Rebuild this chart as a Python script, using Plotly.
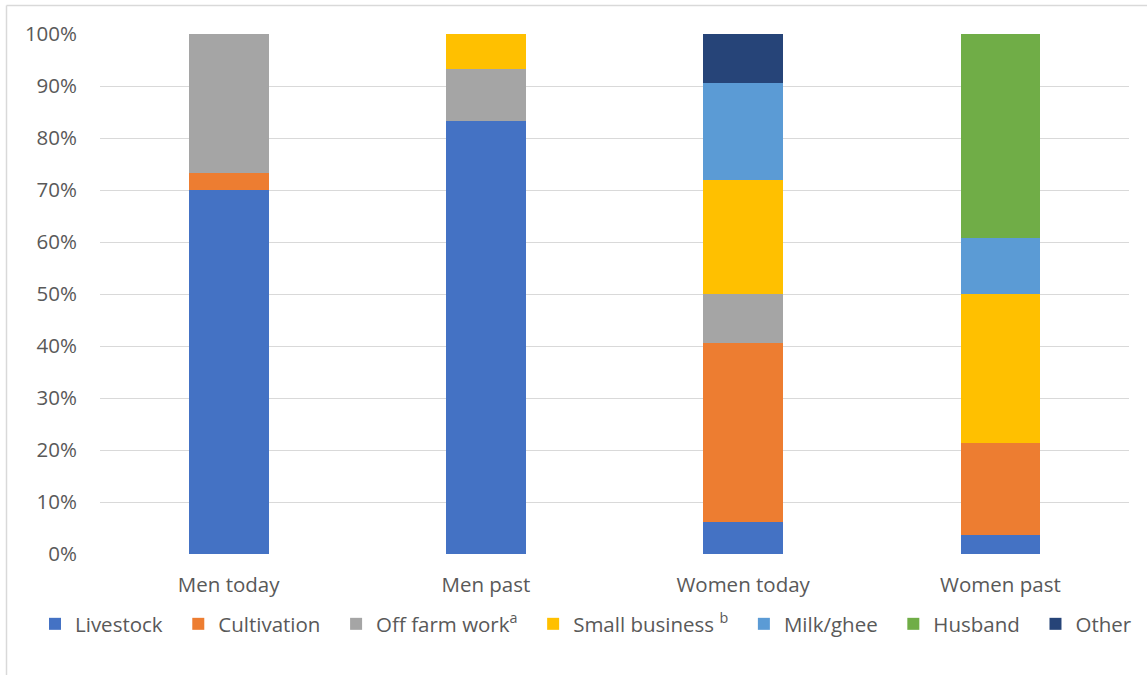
import plotly.graph_objects as go

categories = ["Men today", "Men past", "Women today", "Women past"]
series_names = ["Livestock", "Cultivation", "Off farm work<sup>a</sup>",
                "Small business <sup>b</sup>", "Milk/ghee", "Husband", "Other"]
livestock = [70.0, 83.33, 6.25, 3.57]
cultivation = [3.33, 0.0, 34.38, 17.86]
off_farm = [26.67, 10.0, 9.38, 0.0]
small_business = [0.0, 6.67, 21.88, 28.57]
milk_ghee = [0.0, 0.0, 18.75, 10.71]
husband = [0.0, 0.0, 0.0, 39.29]
other = [0.0, 0.0, 9.38, 0.0]
colors = ["#4472C4", "#ED7D31", "#A5A5A5", "#FFC000", "#5B9BD5", "#70AD47", "#264478"]
tick_vals = [0, 10, 20, 30, 40, 50, 60, 70, 80, 90, 100]
tick_text = [f"{v}%" for v in tick_vals]

values = [livestock, cultivation, off_farm, small_business, milk_ghee, husband, other]

W, H = 1147, 675
L, R, T, B = 100, 18, 34, 121
pw, ph = W - L - R, H - T - B

fig = go.Figure()
pad = "\u00a0\u00a0"
for name, vals, col in zip(series_names, values, colors):
    fig.add_trace(go.Bar(x=categories, y=vals, name=name + pad, width=0.31,
                         marker=dict(color=col, line=dict(width=0))))

font = dict(family="Open Sans, Lato, sans-serif", size=20.5, color="#595959")

def px_x(px):
    return (px - L) / pw

def px_y(py):
    return (H - B - py) / ph

border = dict(color="#D9D9D9", width=1.5)
fig.update_layout(
    width=W, height=H, barmode="stack",
    margin=dict(l=L, r=R, t=T, b=B),
    plot_bgcolor="white", paper_bgcolor="white",
    font=font,
    showlegend=True,
    legend=dict(orientation="h", x=px_x(37), xanchor="left",
                y=px_y(624), yanchor="middle",
                font=font, itemwidth=30, traceorder="normal"),
    xaxis=dict(showgrid=False, showline=False, ticks="", tickfont=font,
               ticklabelstandoff=16),
    yaxis=dict(range=[0, 100], tickvals=tick_vals, ticktext=tick_text,
               showgrid=True, gridcolor="#D9D9D9", gridwidth=1.3,
               zeroline=False, showline=False, ticks="",
               ticklabelstandoff=22, tickfont=font),
    shapes=[
        dict(type="line", xref="paper", yref="paper",
             x0=px_x(6.5), x1=px_x(W), y0=px_y(5.5), y1=px_y(5.5),
             line=border, layer="below"),
        dict(type="line", xref="paper", yref="paper",
             x0=px_x(6.5), x1=px_x(6.5), y0=px_y(5.5), y1=px_y(H),
             line=border, layer="below"),
    ],
)
fig.write_html("out.html")
